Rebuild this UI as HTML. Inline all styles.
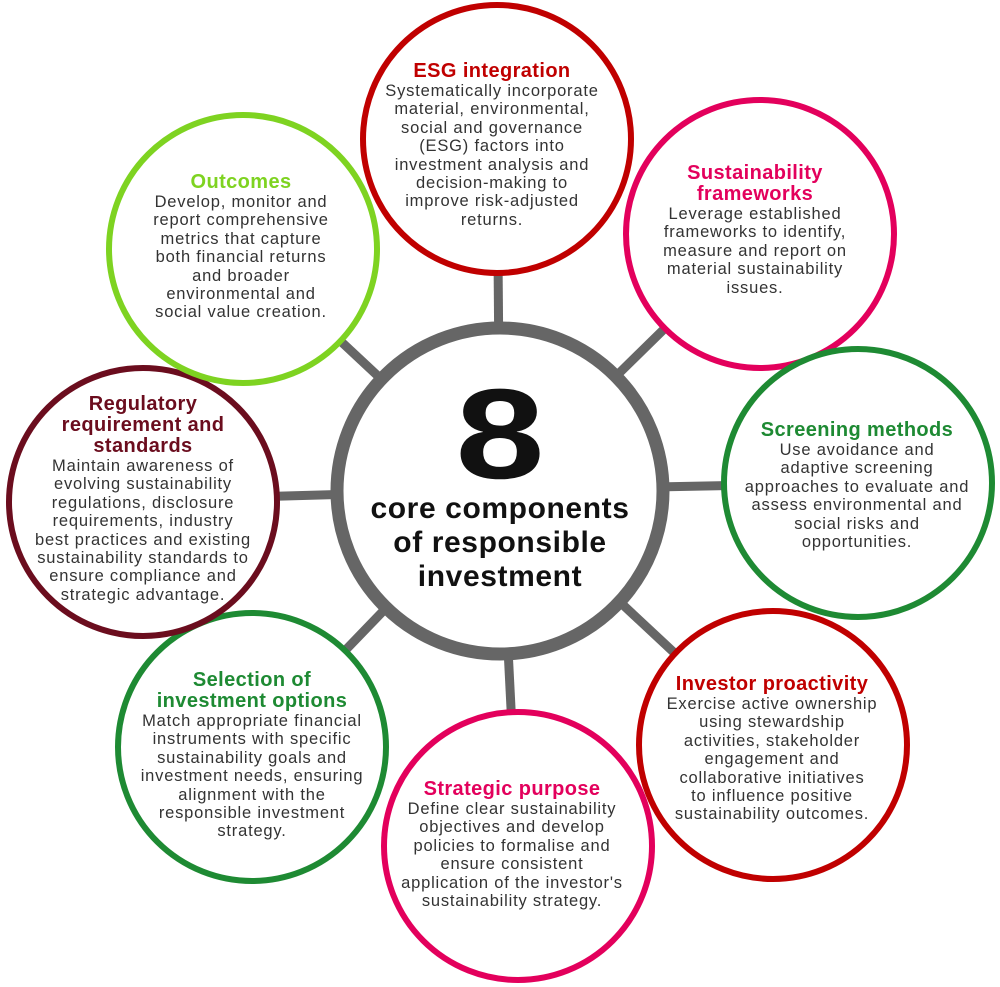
<!DOCTYPE html>
<html><head><style>
body{margin:0;width:1000px;height:987px;background:#fff;position:relative;overflow:hidden;font-family:"Liberation Sans",sans-serif;}
.t{position:absolute;text-align:center;color:#333;font-size:16.5px;line-height:18.4px;letter-spacing:0.8px;transform:translateX(-50%);white-space:nowrap}
.t b{display:block;font-size:20px;line-height:21px;letter-spacing:0.4px}
</style></head><body>
<svg width="1000" height="987" style="position:absolute;left:0;top:0">
<g stroke="#666" stroke-width="9">
<line x1="500" y1="490" x2="497" y2="140"/>
<line x1="500" y1="490" x2="760" y2="235"/>
<line x1="500" y1="490" x2="858" y2="483"/>
<line x1="500" y1="490" x2="773" y2="745"/>
<line x1="500" y1="490" x2="518" y2="847"/>
<line x1="500" y1="490" x2="252" y2="747"/>
<line x1="500" y1="490" x2="143" y2="500"/>
<line x1="500" y1="490" x2="243" y2="250"/>
</g>
<circle cx="500" cy="491" r="163" fill="#fff" stroke="#666" stroke-width="13"/>
<g fill="#fff" stroke-width="6">
<circle cx="497" cy="139" r="134" stroke="#c00000"/>
<circle cx="760" cy="234" r="134" stroke="#e3005c"/>
<circle cx="858" cy="483" r="134" stroke="#1e8a33"/>
<circle cx="773" cy="745" r="134" stroke="#c00000"/>
<circle cx="518" cy="846" r="134" stroke="#e3005c"/>
<circle cx="252" cy="747" r="134" stroke="#1e8a33"/>
<circle cx="143" cy="502" r="134" stroke="#6b0d1e"/>
<circle cx="243" cy="249" r="134" stroke="#7ed321"/>
</g>
</svg>
<div class="t" style="left:500px;top:370px;font-size:128px;line-height:130px;font-weight:bold;color:#111;transform:translateX(-50%) scaleX(1.25);letter-spacing:0">8</div>
<div class="t" style="left:500px;top:492px;font-size:30px;line-height:34px;font-weight:bold;color:#111;letter-spacing:0.6px">core components<br>of responsible<br>investment</div>

<div class="t" style="left:492px;top:61px"><b style="color:#c00000">ESG integration</b>Systematically incorporate<br>material, environmental,<br>social and governance<br>(ESG) factors into<br>investment analysis and<br>decision-making to<br>improve risk-adjusted<br>returns.</div>
<div class="t" style="left:755px;top:163px"><b style="color:#e3005c">Sustainability<br>frameworks</b>Leverage established<br>frameworks to identify,<br>measure and report on<br>material sustainability<br>issues.</div>
<div class="t" style="left:857px;top:420px"><b style="color:#1e8a33">Screening methods</b>Use avoidance and<br>adaptive screening<br>approaches to evaluate and<br>assess environmental and<br>social risks and<br>opportunities.</div>
<div class="t" style="left:772px;top:674px"><b style="color:#c00000">Investor proactivity</b>Exercise active ownership<br>using stewardship<br>activities, stakeholder<br>engagement and<br>collaborative initiatives<br>to influence positive<br>sustainability outcomes.</div>
<div class="t" style="left:512px;top:779px"><b style="color:#e3005c">Strategic purpose</b>Define clear sustainability<br>objectives and develop<br>policies to formalise and<br>ensure consistent<br>application of the investor's<br>sustainability strategy.</div>
<div class="t" style="left:252px;top:670px"><b style="color:#1e8a33">Selection of<br>investment options</b>Match appropriate financial<br>instruments with specific<br>sustainability goals and<br>investment needs, ensuring<br>alignment with the<br>responsible investment<br>strategy.</div>
<div class="t" style="left:143px;top:394px"><b style="color:#6b0d1e">Regulatory<br>requirement and<br>standards</b>Maintain awareness of<br>evolving sustainability<br>regulations, disclosure<br>requirements, industry<br>best practices and existing<br>sustainability standards to<br>ensure compliance and<br>strategic advantage.</div>
<div class="t" style="left:241px;top:172px"><b style="color:#7ed321">Outcomes</b>Develop, monitor and<br>report comprehensive<br>metrics that capture<br>both financial returns<br>and broader<br>environmental and<br>social value creation.</div>
</body></html>
